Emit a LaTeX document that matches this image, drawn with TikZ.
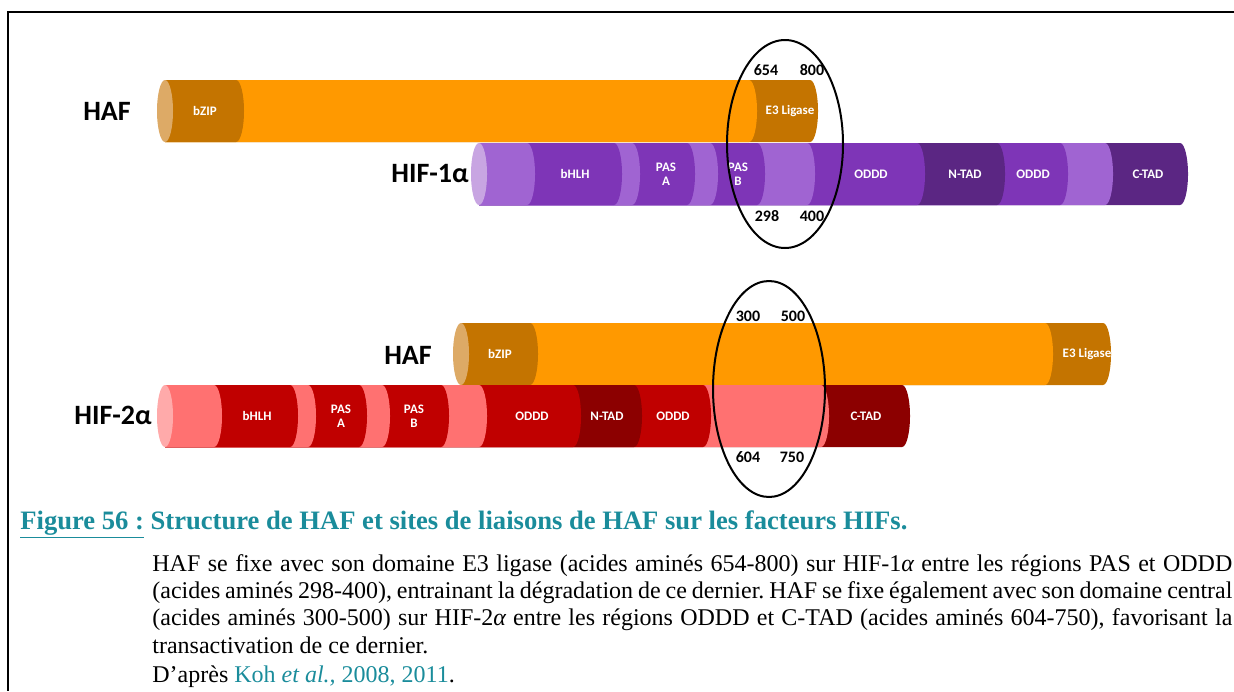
\documentclass[tikz,border=0pt]{standalone}
\usepackage{fontspec}
\setmainfont{Liberation Serif}
\newfontfamily\calibri{Carlito}
\definecolor{hafcap}{HTML}{DDAA66}
\definecolor{hafdark}{HTML}{C47400}
\definecolor{haforange}{HTML}{FF9900}
\definecolor{pcap}{HTML}{C8A5E2}
\definecolor{plight}{HTML}{A064D2}
\definecolor{pdark}{HTML}{7E35B7}
\definecolor{pdeep}{HTML}{5B2683}
\definecolor{rcap}{HTML}{FFAAAA}
\definecolor{rlight}{HTML}{FF7171}
\definecolor{rdark}{HTML}{C00000}
\definecolor{rdeep}{HTML}{8C0000}
\definecolor{figteal}{HTML}{1A8C9B}
\frenchspacing
\begin{document}
\begin{tikzpicture}[x=0.5pt,y=-0.5pt,
    seglabel/.style={text=white,font=\calibri\bfseries\fontsize{6.5}{7}\selectfont,align=center,inner sep=0pt},
    numlabel/.style={font=\calibri\bfseries\fontsize{8}{9}\selectfont,inner sep=0pt},
    protlabel/.style={font=\calibri\bfseries\fontsize{14}{16}\selectfont,inner sep=0pt},
    bindsite/.style={draw=black,line width=1pt},
    bodyline/.style={anchor=base west,inner sep=0pt,font=\fontsize{12}{13.5}\selectfont}]
    \useasboundingbox (0,0) rectangle (1234,691);
    \draw[line width=1pt] (1234,12) -- (8,12) -- (8,691);
    % HAF (top)
    \foreach \xr/\col in {810/hafdark,749/haforange,236/hafdark}
        \fill[fill=\col] (165,80) -- (\xr,80) arc[start angle=90,end angle=-90,x radius=4pt,y radius=15.5pt] -- (165,142) -- cycle;
    \fill[hafcap] (165,111) ellipse [x radius=4pt,y radius=15.5pt];
    % HIF-1alpha
    \foreach \xr/\col in {1180/pdeep,1105/plight,1060/pdark,997/pdeep,917/pdark,807/plight,757/pdark,710/plight,687/pdark,632/plight,614/pdark,527/plight}
        \fill[fill=\col] (479,143) -- (\xr,143) arc[start angle=90,end angle=-90,x radius=4pt,y radius=15.5pt] -- (479,205) -- cycle;
    \fill[pcap] (479,174) ellipse [x radius=4pt,y radius=15.5pt];
    % HAF (bottom)
    \foreach \xr/\col in {1103/hafdark,1045/haforange,530/hafdark}
        \fill[fill=\col] (461,323) -- (\xr,323) arc[start angle=90,end angle=-90,x radius=4pt,y radius=15.5pt] -- (461,385) -- cycle;
    \fill[hafcap] (461,354) ellipse [x radius=4pt,y radius=15.5pt];
    % HIF-2alpha
    \foreach \xr/\col in {902/rdeep,821/rlight,703/rdark,634/rdeep,573/rdark,479/rlight,441/rdark,382/rlight,359/rdark,308/rlight,290/rdark,214/rlight}
        \fill[fill=\col] (165,385) -- (\xr,385) arc[start angle=90,end angle=-90,x radius=4pt,y radius=15.5pt] -- (165,447) -- cycle;
    \fill[rcap] (165,416) ellipse [x radius=4pt,y radius=15.5pt];
    % domain labels
    \node[seglabel] (bzipa) at (205,111) {bZIP};
    \node[seglabel] (e3a) at (790,111) {E3 Ligase};
    \node[seglabel] (bhlha) at (575,174) {bHLH};
    \node[seglabel] (pasaa) at (666,174) {PAS\\A};
    \node[seglabel] (pasba) at (738,174) {PAS\\B};
    \node[seglabel] (oddda) at (871,174) {ODDD};
    \node[seglabel] (ntada) at (965,174) {N-TAD};
    \node[seglabel] (odddb) at (1033,174) {ODDD};
    \node[seglabel] (ctada) at (1148,174) {C-TAD};
    \node[seglabel] (bzipb) at (500,354) {bZIP};
    \node[seglabel] (e3b) at (1087,354) {E3 Ligase};
    \node[seglabel] (bhlhb) at (257,416) {bHLH};
    \node[seglabel] (pasab) at (341,416) {PAS\\A};
    \node[seglabel] (pasbb) at (414,416) {PAS\\B};
    \node[seglabel] (odddc) at (532,416) {ODDD};
    \node[seglabel] (ntadb) at (607,416) {N-TAD};
    \node[seglabel] (odddd) at (673,416) {ODDD};
    \node[seglabel] (ctadb) at (866,416) {C-TAD};
    % protein names
    \node[protlabel] (hafa) at (107,111) {HAF};
    \node[protlabel] (hifone) at (430,174) {HIF-1α};
    \node[protlabel] (hafb) at (408,355) {HAF};
    \node[protlabel] (hiftwo) at (113,415) {HIF-2α};
    % binding sites
    \draw[bindsite] (785,144) ellipse [x radius=29pt,y radius=52pt];
    \draw[bindsite] (769,389) ellipse [x radius=28pt,y radius=54pt];
    \node[numlabel] (na) at (766,70) {654};
    \node[numlabel] (nb) at (812,70) {800};
    \node[numlabel] (nc) at (767,216) {298};
    \node[numlabel] (nd) at (812,216) {400};
    \node[numlabel] (ne) at (748,316) {300};
    \node[numlabel] (nf) at (793,316) {500};
    \node[numlabel] (ng) at (748,457) {604};
    \node[numlabel] (nh) at (792,457) {750};
    % caption
    \node[anchor=base west,inner sep=0pt,text=figteal,font=\bfseries\fontsize{13.3}{15}\selectfont] (title) at (20,529)
        {\underline{Figure 56 :} Structure de HAF et sites de liaisons de HAF sur les facteurs HIFs.};
    \node[bodyline] (la) at (152,571) {\makebox[540pt][s]{HAF se fixe avec son domaine E3 ligase (acides aminés 654-800) sur HIF-1{\itshape α} entre les régions PAS et ODDD}};
    \node[bodyline] (lb) at (152,598) {\makebox[540pt][s]{(acides aminés 298-400), entrainant la dégradation de ce dernier. HAF se fixe également avec son domaine central}};
    \node[bodyline] (lc) at (152,625) {\makebox[540pt][s]{(acides aminés 300-500) sur HIF-2{\itshape α} entre les régions ODDD et C-TAD (acides aminés 604-750), favorisant la}};
    \node[bodyline] (ld) at (152,653) {transactivation de ce dernier.};
    \node[bodyline] (le) at (152,682) {D’après {\color{figteal}Koh \textit{et al.,} 2008, 2011}.};
\end{tikzpicture}
\end{document}
